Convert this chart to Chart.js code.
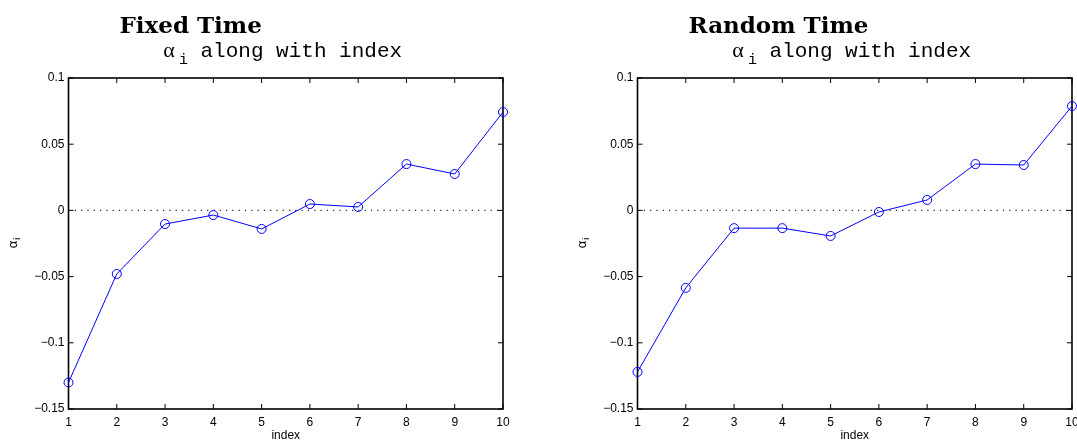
<!DOCTYPE html>
<html>
<head>
<meta charset="utf-8">
<script src="https://cdn.jsdelivr.net/npm/chart.js@4/dist/chart.umd.min.js"></script>
<style>
  html, body { margin: 0; padding: 0; background: #fff; overflow: hidden; }
  .panel { position: absolute; top: 0; height: 443px; }
  #fixedPanel { left: 0; width: 538px; }
  #randomPanel { left: 538px; width: 570px; }
</style>
</head>
<body>
<div class="panel" id="fixedPanel"><canvas id="fixedChart" width="538" height="443"></canvas></div>
<div class="panel" id="randomPanel"><canvas id="randomChart" width="570" height="443"></canvas></div>
<script>
const INDEX = [1, 2, 3, 4, 5, 6, 7, 8, 9, 10]
const ALPHA_FIXED = [-0.130, -0.048, -0.0103, -0.0035, -0.014, 0.0048, 0.0026, 0.035, 0.0275, 0.0743]
const ALPHA_RANDOM = [-0.122, -0.0585, -0.0134, -0.0134, -0.0193, -0.0012, 0.0079, 0.035, 0.0343, 0.0788]
const Y_TICKS = [-0.15, -0.1, -0.05, 0, 0.05, 0.1]
const X_TICKS = INDEX
const SUBTITLE = 'along with index'
const X_LABEL = 'index'

const SANS = '"Liberation Sans", Arial, sans-serif'

// box round the axes with the small inward ticks on all four sides
const framePlugin = {
  id: 'frame',
  beforeDatasetsDraw(chart) {
    const { ctx, chartArea: a, scales: { x, y } } = chart
    ctx.save()
    ctx.strokeStyle = '#000'
    ctx.lineWidth = 1
    ctx.beginPath()
    x.ticks.forEach(t => {
      const px = x.getPixelForValue(t.value)
      ctx.moveTo(px, a.bottom); ctx.lineTo(px, a.bottom - 5)
      ctx.moveTo(px, a.top); ctx.lineTo(px, a.top + 5)
    })
    y.ticks.forEach(t => {
      const py = y.getPixelForValue(t.value)
      ctx.moveTo(a.left, py); ctx.lineTo(a.left + 5, py)
      ctx.moveTo(a.right, py); ctx.lineTo(a.right - 5, py)
    })
    ctx.stroke()
    ctx.lineWidth = 1.6
    ctx.strokeRect(a.left, a.top, a.right - a.left, a.bottom - a.top)
    ctx.restore()
  }
}

// title, subtitle with the subscript and the rotated y label
const labelsPlugin = {
  id: 'panelLabels',
  afterDraw(chart, args, opts) {
    const { ctx, chartArea: a } = chart
    ctx.save()
    ctx.fillStyle = '#000'
    ctx.textAlign = 'left'
    ctx.textBaseline = 'alphabetic'

    ctx.font = 'bold 23px "DejaVu Serif", serif'
    ctx.fillText(opts.title, a.left + 51, 33)

    const alphaFont = '22px "Liberation Serif", serif'
    const subFont = '15px "Liberation Mono", monospace'
    const textFont = '21px "Liberation Mono", monospace'
    ctx.font = alphaFont
    const wA = ctx.measureText('α').width + 4
    ctx.font = subFont
    const wI = ctx.measureText('i').width
    ctx.font = textFont
    const wT = ctx.measureText(' ' + SUBTITLE).width
    let sx = (a.left + a.right) / 2 - (wA + wI + wT) / 2 - 3
    const base = 57
    ctx.font = alphaFont
    ctx.fillText('α', sx, base)
    sx += wA
    ctx.font = subFont
    ctx.fillText('i', sx, base + 7)
    sx += wI
    ctx.font = textFont
    ctx.fillText(' ' + SUBTITLE, sx, base)

    ctx.translate(a.left - 55, (a.top + a.bottom) / 2)
    ctx.rotate(-Math.PI / 2)
    ctx.textBaseline = 'middle'
    ctx.font = '13px ' + SANS
    const wa = ctx.measureText('α').width
    ctx.font = '9px ' + SANS
    const wi = ctx.measureText('i').width
    ctx.font = '13px ' + SANS
    ctx.fillText('α', -(wa + wi) / 2, 0)
    ctx.font = '9px ' + SANS
    ctx.fillText('i', -(wa + wi) / 2 + wa + 1, 4)
    ctx.restore()
  }
}

function makeConfig(values, title, yWidth, padRight) {
  return {
    type: 'line',
    data: {
      datasets: [{
        data: INDEX.map((v, i) => ({ x: v, y: values[i] })),
        borderColor: '#0000ff',
        borderWidth: 1,
        pointRadius: 4.5,
        pointBorderWidth: 1,
        pointBorderColor: '#0000ff',
        pointBackgroundColor: 'rgba(0,0,0,0)',
        tension: 0,
        clip: false
      }, {
        data: [{ x: INDEX[0], y: 0 }, { x: INDEX[INDEX.length - 1], y: 0 }],
        borderColor: '#222',
        borderWidth: 1.2,
        borderDash: [1.2, 5.1],
        pointRadius: 0
      }]
    },
    plugins: [framePlugin, labelsPlugin],
    options: {
      responsive: false,
      animation: false,
      events: [],
      layout: { padding: { left: 0, top: 78, right: padRight, bottom: 0 } },
      scales: {
        x: {
          type: 'linear',
          min: 1,
          max: 10,
          grid: { display: false, drawTicks: false, tickLength: 0 },
          border: { display: false },
          afterBuildTicks: scale => { scale.ticks = X_TICKS.map(v => ({ value: v })) },
          afterFit: scale => { scale.height = 34 },
          ticks: {
            autoSkip: false,
            maxRotation: 0,
            padding: 6,
            color: '#000',
            font: { family: SANS, size: 12 }
          },
          title: {
            display: true,
            text: X_LABEL,
            color: '#000',
            padding: 0,
            font: { family: SANS, size: 12 }
          }
        },
        y: {
          min: -0.15,
          max: 0.1,
          grid: { display: false, drawTicks: false, tickLength: 0 },
          border: { display: false },
          afterBuildTicks: scale => { scale.ticks = Y_TICKS.map(v => ({ value: v })) },
          afterFit: scale => { scale.width = yWidth },
          ticks: {
            padding: 4,
            color: '#000',
            font: { family: SANS, size: 12 },
            callback: value => String(value).replace('-', '\u2212')
          }
        }
      },
      plugins: {
        legend: { display: false },
        tooltip: { enabled: false },
        panelLabels: { title: title }
      }
    }
  }
}

const fixedChart = new Chart(
  document.getElementById('fixedChart'),
  makeConfig(ALPHA_FIXED, 'Fixed Time', 68.5, 35)
)

const randomChart = new Chart(
  document.getElementById('randomChart'),
  makeConfig(ALPHA_RANDOM, 'Random Time', 99.5, 36)
)
</script>
</body>
</html>
